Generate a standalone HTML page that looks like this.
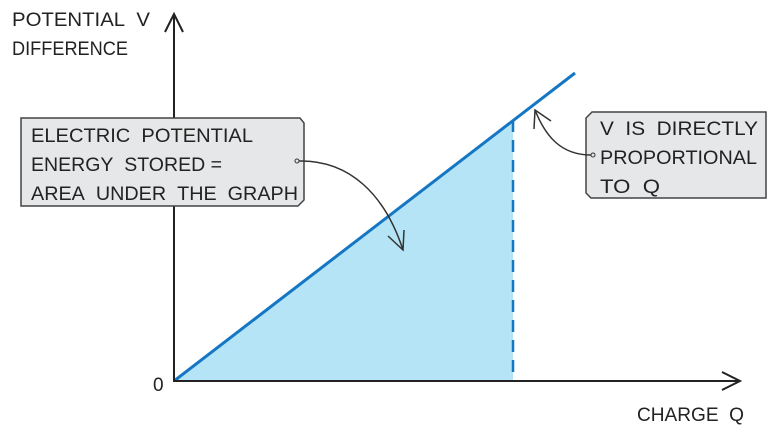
<!DOCTYPE html><html><head><style>body{margin:0;background:#fff}svg{display:block}text{font-family:"Liberation Sans",sans-serif;fill:#222}</style></head><body>
<svg width="780" height="443" viewBox="0 0 780 443">
<polygon points="174,381 513,120 513,381" fill="#b5e4f6"/>
<line x1="174" y1="381" x2="575" y2="73" stroke="#1577c4" stroke-width="3"/>
<line x1="513" y1="120" x2="513" y2="381" stroke="#1577c4" stroke-width="2.5" stroke-dasharray="12,8"/>
<line x1="174" y1="14" x2="174" y2="382" stroke="#222" stroke-width="2"/>
<polyline points="165,32 174,14 183,32" fill="none" stroke="#222" stroke-width="2"/>
<line x1="174" y1="381" x2="740" y2="381" stroke="#222" stroke-width="2"/>
<polyline points="722,372 740,381 722,390" fill="none" stroke="#222" stroke-width="2"/>
<g font-size="19">
<text x="12" y="26" textLength="138" lengthAdjust="spacingAndGlyphs">POTENTIAL&#160;&#160;V</text>
<text x="12" y="55" textLength="116" lengthAdjust="spacingAndGlyphs">DIFFERENCE</text>
<text x="153" y="391">0</text>
<text x="637" y="421" textLength="107" lengthAdjust="spacingAndGlyphs">CHARGE&#160;&#160;Q</text>
</g>
<path d="M21,118 H300 L304,123 V200 L298,206 H21 Z" fill="#e6e7e8" stroke="#444" stroke-width="1.5"/>
<g font-size="19">
<text x="31" y="142" textLength="222" lengthAdjust="spacingAndGlyphs">ELECTRIC&#160;&#160;POTENTIAL</text>
<text x="31" y="171" textLength="191" lengthAdjust="spacingAndGlyphs">ENERGY&#160;&#160;STORED =</text>
<text x="31" y="200" textLength="267" lengthAdjust="spacingAndGlyphs">AREA&#160;&#160;UNDER&#160;&#160;THE&#160;&#160;GRAPH</text>
</g>
<circle cx="297" cy="161" r="2" fill="none" stroke="#333"/>
<path d="M299,161 C350,160 385,195 403,250" fill="none" stroke="#333" stroke-width="1.5"/>
<polyline points="388,236 403,250 404,230" fill="none" stroke="#333" stroke-width="1.5"/>
<path d="M592,112 H766 V198 H591 L586,193 V118 Z" fill="#e6e7e8" stroke="#444" stroke-width="1.5"/>
<g font-size="19">
<text x="600" y="135" textLength="158" lengthAdjust="spacingAndGlyphs">V&#160;&#160;IS&#160;&#160;DIRECTLY</text>
<text x="600" y="164" textLength="157" lengthAdjust="spacingAndGlyphs">PROPORTIONAL</text>
<text x="600" y="193" textLength="60" lengthAdjust="spacingAndGlyphs">TO&#160;&#160;Q</text>
</g>
<circle cx="593" cy="155" r="2" fill="none" stroke="#333"/>
<path d="M591,155 C560,155 545,135 535,110" fill="none" stroke="#333" stroke-width="1.5"/>
<polyline points="534,129 535,110 551,121" fill="none" stroke="#333" stroke-width="1.5"/>
</svg></body></html>
